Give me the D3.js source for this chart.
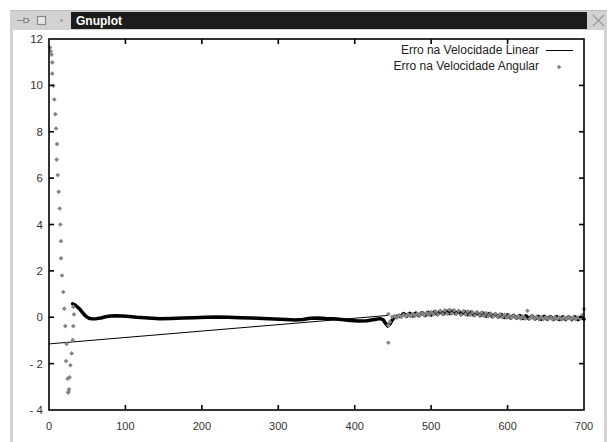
<!DOCTYPE html>
<html>
<head>
<meta charset="utf-8">
<script src="https://cdn.jsdelivr.net/npm/d3@7"></script>
<style>
  html, body { margin: 0; padding: 0; background: #ffffff; }
  svg { display: block; }
  text { font-family: "Liberation Sans", Arial, Helvetica, sans-serif; }
</style>
</head>
<body>
<svg id="chart" width="610" height="442"></svg>
<script>
// Axis ticks
const xTicks = [0, 100, 200, 300, 400, 500, 600, 700];
const yTicks = [-4, -2, 0, 2, 4, 6, 8, 10, 12];

// Series names
const seriesNames = ["Erro na Velocidade Linear", "Erro na Velocidade Angular"];

// Linear velocity error (dense trace)
const linearT = [31, 33, 35, 38, 41, 44, 47, 50, 53, 57, 62, 68, 74, 80, 88, 96, 105, 115, 125, 135, 145, 160, 175, 190, 205, 220, 235, 250, 265, 280, 295, 310, 322, 332, 342, 352, 362, 372, 383, 394, 405, 416, 426, 433, 437, 440, 443, 446, 449, 452, 456,
  460, 464, 468, 472, 476, 480, 484, 488, 492, 496, 500, 504, 508, 512, 516, 520, 524, 528, 532, 536, 540, 544, 548, 552, 556, 560, 564, 568, 572, 576, 580, 584, 588, 592, 596, 600, 604, 608, 612, 616, 620, 624, 628, 632, 636, 640, 644, 648, 652, 656, 660, 664, 668, 672, 676, 680, 684, 688, 692, 696, 700];
const linearV = [0.58, 0.55, 0.50, 0.42, 0.32, 0.20, 0.08, 0.00, -0.05, -0.07, -0.06, -0.03, 0.02, 0.05, 0.06, 0.05, 0.03, 0.00, -0.02, -0.04, -0.06, -0.05, -0.03, -0.02, 0.00, 0.01, 0.00, -0.02, -0.03, -0.05, -0.08, -0.10, -0.12, -0.10, -0.04, -0.03, -0.05, -0.06, -0.10, -0.14, -0.16, -0.15, -0.10, -0.06, -0.10, -0.25, -0.38, -0.30, -0.12, 0.00, 0.05,
  0.03, 0.16, 0.04, 0.17, 0.06, 0.18, 0.07, 0.20, 0.08, 0.21, 0.10, 0.23, 0.12, 0.25, 0.14, 0.27, 0.16, 0.28, 0.15, 0.26, 0.13, 0.24, 0.11, 0.22, 0.09, 0.20, 0.07, 0.18, 0.05, 0.16, 0.03, 0.14, 0.01, 0.12, -0.01, 0.10, -0.03, 0.08, -0.04, 0.07, -0.05, 0.06, -0.06, 0.05, -0.07, 0.04, -0.08, 0.04, -0.08, 0.03, -0.09, 0.03, -0.09, 0.02, -0.10, 0.02, -0.10, 0.02, -0.10, 0.01, -0.08];

// Linear velocity error: single thin segment joining the restart sample
const linearJumpT = [0, 444];
const linearJumpV = [-1.15, 0.08];

// Angular velocity error samples
const angularT = [1.3, 2.2, 3.5, 4.3, 4.3, 5.6, 7.0, 8.3, 9.2, 10.5, 10.0, 11.4, 12.7, 14.0, 14.8, 15.7, 15.7, 17.0, 18.7, 20.0, 21.3, 22.3, 23.0, 24.4, 25.0, 25.7, 26.2, 27.0, 28.0, 29.7, 31.0, 31.8, 32.7, 31.8,
  444, 444, 444,
  446, 449, 452, 455, 458, 461, 464, 467, 470, 473, 476, 479, 482, 485, 488, 491, 494, 497, 500, 503, 506, 509, 512, 515, 518, 521, 524, 527, 530, 533, 536, 539, 542, 545, 548, 551, 554, 557, 560, 563, 566, 569, 572, 575, 578, 581, 584, 587, 590, 593, 596, 599, 602, 605, 608, 611, 614, 617, 620, 623, 626, 629, 632, 635, 638, 641, 644, 647, 650, 653, 656, 659, 662, 665, 668, 671, 674, 677, 680, 683, 686, 689, 692, 695, 698, 700];
const angularV = [11.63, 11.47, 11.33, 10.99, 10.51, 9.98, 9.39, 8.76, 8.14, 7.47, 6.80, 6.13, 5.41, 4.69, 4.00, 3.28, 2.54, 1.80, 1.09, 0.37, -0.38, -1.89, -1.15, -2.65, -3.25, -3.21, -3.11, -2.59, -2.07, -1.56, -0.98, -0.38, 0.12, 0.45,
  0.14, -0.35, -1.10,
  -0.20, 0.02, 0.05, -0.02, 0.08, 0.02, 0.10, 0.04, 0.12, 0.05, 0.14, 0.06, 0.15, 0.08, 0.18, 0.10, 0.20, 0.10, 0.22, 0.12, 0.25, 0.12, 0.28, 0.14, 0.30, 0.15, 0.32, 0.16, 0.30, 0.14, 0.28, 0.10, 0.26, 0.12, 0.25, 0.10, 0.22, 0.08, 0.22, 0.08, 0.20, 0.06, 0.18, 0.05, 0.16, 0.03, 0.14, 0.02, 0.12, 0.00, 0.10, -0.02, 0.08, -0.03, 0.06, -0.04, 0.05, -0.05, 0.04, -0.06, 0.28, -0.06, 0.03, -0.07, 0.02, -0.08, 0.01, -0.08, 0.00, -0.09, 0.00, -0.09, 0.00, -0.08, 0.00, -0.09, 0.00, -0.08, 0.00, -0.09, 0.00, -0.08, 0.00, -0.06, 0.10, 0.35];

const svg = d3.select("#chart");

// ---- window frame ----
svg.append("rect").attr("x", 10).attr("y", 10).attr("width", 597).attr("height", 432).attr("fill", "#d2d2d2");
svg.append("rect").attr("x", 13).attr("y", 30).attr("width", 591).attr("height", 412).attr("fill", "#ffffff");
svg.append("rect").attr("x", 10).attr("y", 10).attr("width", 597).attr("height", 1).attr("fill", "#bdbdbd");
// title bar
svg.append("rect").attr("x", 71).attr("y", 12).attr("width", 516).attr("height", 17).attr("fill", "#1c1c1c");
svg.append("text").attr("x", 76).attr("y", 25).attr("fill", "#ffffff")
  .attr("font-size", 12).attr("font-weight", "bold").text("Gnuplot");
// title bar buttons
const btn = svg.append("g").attr("stroke", "#8a8a8a").attr("fill", "none").attr("stroke-width", 1.2);
btn.append("path").attr("d", "M17,20.5H24M24,17.5V23.5M24,18.5H28V22.5H24M28,20.5H30");
btn.append("rect").attr("x", 37.5).attr("y", 16.5).attr("width", 8).attr("height", 8).attr("fill", "#e6e6e6");
svg.append("rect").attr("x", 60.5).attr("y", 19.5).attr("width", 2).attr("height", 2).attr("fill", "#8a8a8a");
btn.append("path").attr("d", "M593,15L604,26M604,15L593,26").attr("stroke", "#9a9a9a");

// ---- plot area ----
const plotLeft = 49, plotRight = 584, plotTop = 39, plotBottom = 410;
const x = d3.scaleLinear().domain([0, 700]).range([plotLeft, plotRight]);
const y = d3.scaleLinear().domain([-4, 12]).range([plotBottom, plotTop]);

const plot = svg.append("g");

// linear velocity error traces
const lineGen = d3.line().x(d => x(d[0])).y(d => y(d[1]));
const linearPts = linearT.map((t, i) => [t, linearV[i]]);
const jumpPts = linearJumpT.map((t, i) => [t, linearJumpV[i]]);
plot.append("path").datum(jumpPts).attr("d", lineGen)
  .attr("fill", "none").attr("stroke", "#000").attr("stroke-width", 1);
plot.append("path").datum(linearPts).attr("d", lineGen)
  .attr("fill", "none").attr("stroke", "#000").attr("stroke-width", 3.5)
  .attr("stroke-linejoin", "round").attr("stroke-linecap", "round");

// angular velocity error points (square rotated 45° = gnuplot diamond)
const diamond = d3.symbol().type(d3.symbolSquare).size(11);
plot.append("g").selectAll("path").data(angularT.map((t, i) => [t, angularV[i]]))
  .join("path")
  .attr("transform", d => `translate(${x(d[0])},${y(d[1])}) rotate(45)`)
  .attr("d", diamond)
  .attr("fill", "#858585");

// ---- axes (gnuplot style: inward mirrored ticks) ----
const tickLen = 5;
const axisG = svg.append("g").attr("stroke", "#000").attr("stroke-width", 1.6);
axisG.append("rect").attr("x", plotLeft).attr("y", plotTop)
  .attr("width", plotRight - plotLeft).attr("height", plotBottom - plotTop)
  .attr("fill", "none");
xTicks.forEach(t => {
  if (t === 0 || t === 700) return;
  axisG.append("line").attr("x1", x(t)).attr("x2", x(t)).attr("y1", plotBottom).attr("y2", plotBottom - tickLen);
  axisG.append("line").attr("x1", x(t)).attr("x2", x(t)).attr("y1", plotTop).attr("y2", plotTop + tickLen);
});
yTicks.forEach(t => {
  if (t === -4 || t === 12) return;
  axisG.append("line").attr("x1", plotLeft).attr("x2", plotLeft + tickLen).attr("y1", y(t)).attr("y2", y(t));
  axisG.append("line").attr("x1", plotRight).attr("x2", plotRight - tickLen).attr("y1", y(t)).attr("y2", y(t));
});

// tick labels
svg.append("g").selectAll("text").data(xTicks).join("text")
  .attr("x", d => x(d)).attr("y", 430).attr("text-anchor", "middle")
  .attr("font-size", 11).attr("fill", "#333").text(d => d);
svg.append("g").selectAll("text").data(yTicks).join("text")
  .attr("x", 43).attr("y", d => y(d) + 4).attr("text-anchor", "end")
  .attr("font-size", 11.5).attr("fill", "#333").text(d => d < 0 ? "- " + Math.abs(d) : d);

// ---- legend ----
const leg = svg.append("g").attr("font-size", 12).attr("fill", "#222");
leg.append("text").attr("x", 539).attr("y", 54).attr("text-anchor", "end").text(seriesNames[0]);
leg.append("line").attr("x1", 546).attr("x2", 573).attr("y1", 50.5).attr("y2", 50.5)
  .attr("stroke", "#000").attr("stroke-width", 1);
leg.append("text").attr("x", 539).attr("y", 70).attr("text-anchor", "end").text(seriesNames[1]);
leg.append("path").attr("transform", "translate(559,67) rotate(45)").attr("d", diamond)
  .attr("fill", "#858585");
</script>
</body>
</html>
